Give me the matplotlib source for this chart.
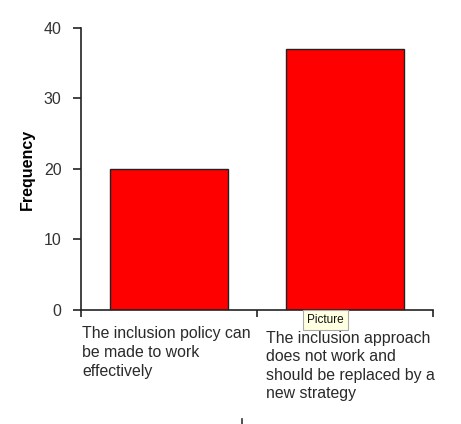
import numpy as np
import matplotlib.pyplot as plt
from matplotlib.lines import Line2D

plt.rcParams['font.family'] = ['Liberation Sans', 'DejaVu Sans']

# Data
categories = ['The inclusion policy can\nbe made to work\neffectively',
              'The inclusion approach\ndoes not work and\nshould be replaced by a\nnew strategy']
frequency = [20, 37]
y_ticks = [0, 10, 20, 30, 40]

fig = plt.figure(figsize=(4.61, 4.24), dpi=100)
ax = fig.add_axes([0.1757, 0.2689, 0.7636, 0.6651])

x = np.arange(len(categories)) + 0.5
ax.bar(x, frequency, width=0.67, color='#FF0000', edgecolor='#222222', linewidth=1)

ax.set_xlim(0, 2)
ax.set_ylim(0, 40)
ax.set_yticks(y_ticks)
ax.set_xticks([0, 1, 2])
ax.set_xticklabels([])

for s in ['top', 'right']:
    ax.spines[s].set_visible(False)
for s in ['left', 'bottom']:
    ax.spines[s].set_color('#222222')
    ax.spines[s].set_linewidth(1.2)

ax.tick_params(axis='y', direction='out', length=6, width=1.2, color='#222222',
               labelsize=11.5, labelcolor='#333333', pad=8)
ax.tick_params(axis='x', direction='out', length=5, width=1.2, color='#222222')

ax.set_ylabel('Frequency', fontsize=11.5, fontweight='bold', labelpad=6)

# category labels, left aligned under each tick
offsets = [(0.006, -0.058), (1.05, -0.073)]
for (dx, dy), lab in zip(offsets, categories):
    ax.text(dx, dy, lab, transform=ax.get_xaxis_transform(), ha='left', va='top',
            fontsize=11.4, color='#2a2a2a', linespacing=1.3)

# tooltip
fig.text(0.666, 0.245, 'Picture', fontsize=8.5, color='#111111', ha='left', va='center',
         bbox=dict(boxstyle='square,pad=0.35', facecolor='#FFFFE1', edgecolor='#AAAAAA', linewidth=0.8))

# small stray mark at the bottom
fig.add_artist(Line2D([0.525, 0.525], [0.0, 0.012], color='#333333', linewidth=1.2,
                      transform=fig.transFigure))

fig.savefig('out.png', dpi=100)
